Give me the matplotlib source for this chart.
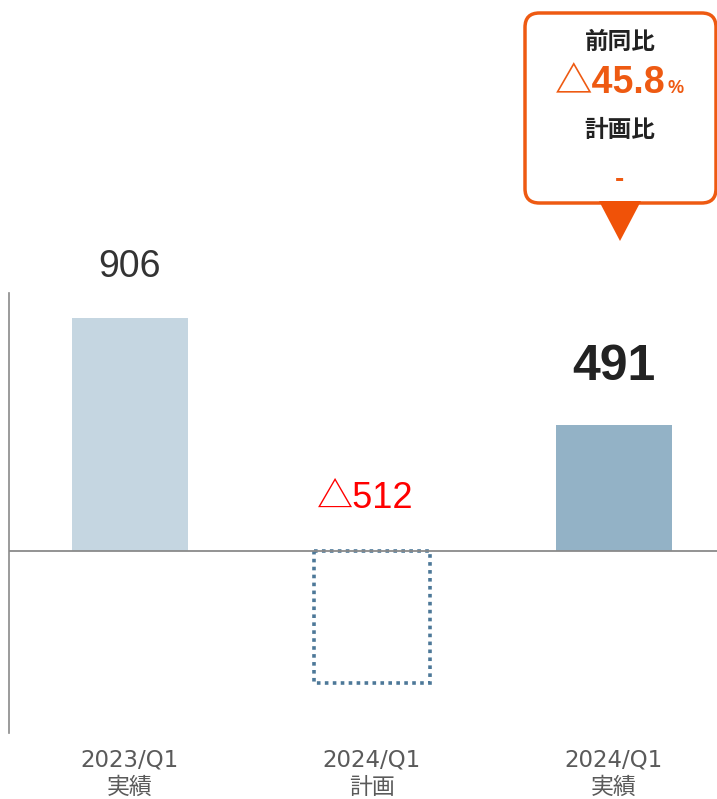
import matplotlib
matplotlib.use('Agg')
import numpy as np
from matplotlib import pyplot as plt
from matplotlib.patches import FancyBboxPatch, Polygon

plt.rcParams['font.family'] = ['Liberation Sans', 'Noto Sans CJK JP', 'DejaVu Sans']

# data
periods = ['2023/Q1', '2024/Q1', '2024/Q1']
kinds = ['実績', '計画', '実績']
values = [906, -512, 491]
value_labels = ['906', '△512', '491']
yoy_text = '△45.8'
plan_text = '-'

W, H = 717, 799
fig = plt.figure(figsize=(W / 100, H / 100), dpi=100)
ax = fig.add_axes([9 / W, (H - 733) / H, (W - 9) / W, (733 - 293) / H])

x = np.arange(len(values))
bw = 0.48
ax.bar(x[0], values[0], width=bw, color='#C5D6E1')
ax.bar(x[2], values[2], width=bw, color='#93B2C6')
ax.bar(x[1], values[1], width=bw, facecolor='none', edgecolor='#4D7898',
       linewidth=2.6, linestyle=(0, (1, 1.2)))

ax.axhline(0, color='#8a8a8a', linewidth=1.3, zorder=3)
ax.set_xlim(-0.5, 2.426)
ax.set_ylim(-708, 1004)

for s in ['top', 'right', 'bottom']:
    ax.spines[s].set_visible(False)
ax.spines['left'].set_color('#8a8a8a')
ax.spines['left'].set_linewidth(1.2)
ax.set_yticks([])
ax.set_xticks(x)
ax.set_xticklabels([p + '\n' + k for p, k in zip(periods, kinds)],
                   fontsize=16.5, color='#5a5a5a', linespacing=1.25,
                   family=['DejaVu Sans', 'Noto Sans CJK JP'])
ax.tick_params(axis='x', length=0, pad=11)

# value labels (offsets in points from the bar end / zero line)
ax.annotate(value_labels[0], (x[0], values[0]), xytext=(0, 37), textcoords='offset points',
            ha='center', va='center', fontsize=27, color='#333333')
ax.annotate(value_labels[1], (x[1], 0), xytext=(-5, 38), textcoords='offset points',
            ha='center', va='center', fontsize=26, color='#ff0000')
ax.annotate(value_labels[2], (x[2], values[2]), xytext=(0, 42), textcoords='offset points',
            ha='center', va='center', fontsize=36, fontweight='bold', color='#222222')

# callout box
orange = '#EE5A12'
bx0, by0, bx1, by1 = 525, 13, 716, 203
box = FancyBboxPatch((bx0 / W, 1 - by1 / H), (bx1 - bx0) / W, (by1 - by0) / H,
                     boxstyle='round,pad=0,rounding_size=0.02',
                     transform=fig.transFigure, facecolor='white',
                     edgecolor=orange, linewidth=2.5, mutation_aspect=W / H)
fig.patches.append(box)
tri = Polygon([(599 / W, 1 - 201 / H), (641 / W, 1 - 201 / H), (620 / W, 1 - 241 / H)],
              closed=True, transform=fig.transFigure, facecolor='#F05208',
              edgecolor='none')
fig.patches.append(tri)

cx = 620 / W
fig.text(cx, 1 - 42 / H, '前同比', ha='center', va='center', fontsize=17,
         fontweight='bold', color='#222222', family=['Noto Sans CJK JP'])
fig.text(666 / W, 1 - 93 / H, yoy_text, ha='right', va='baseline', fontsize=27,
         fontweight='bold', color=orange)
fig.text(667 / W, 1 - 93 / H, '%', ha='left', va='baseline', fontsize=13,
         fontweight='bold', color=orange)
fig.text(cx, 1 - 130 / H, '計画比', ha='center', va='center', fontsize=17,
         fontweight='bold', color='#222222', family=['Noto Sans CJK JP'])
fig.text(cx, 1 - 180 / H, plan_text, ha='center', va='center', fontsize=20,
         fontweight='bold', color=orange)

fig.savefig('out.png', dpi=100)
